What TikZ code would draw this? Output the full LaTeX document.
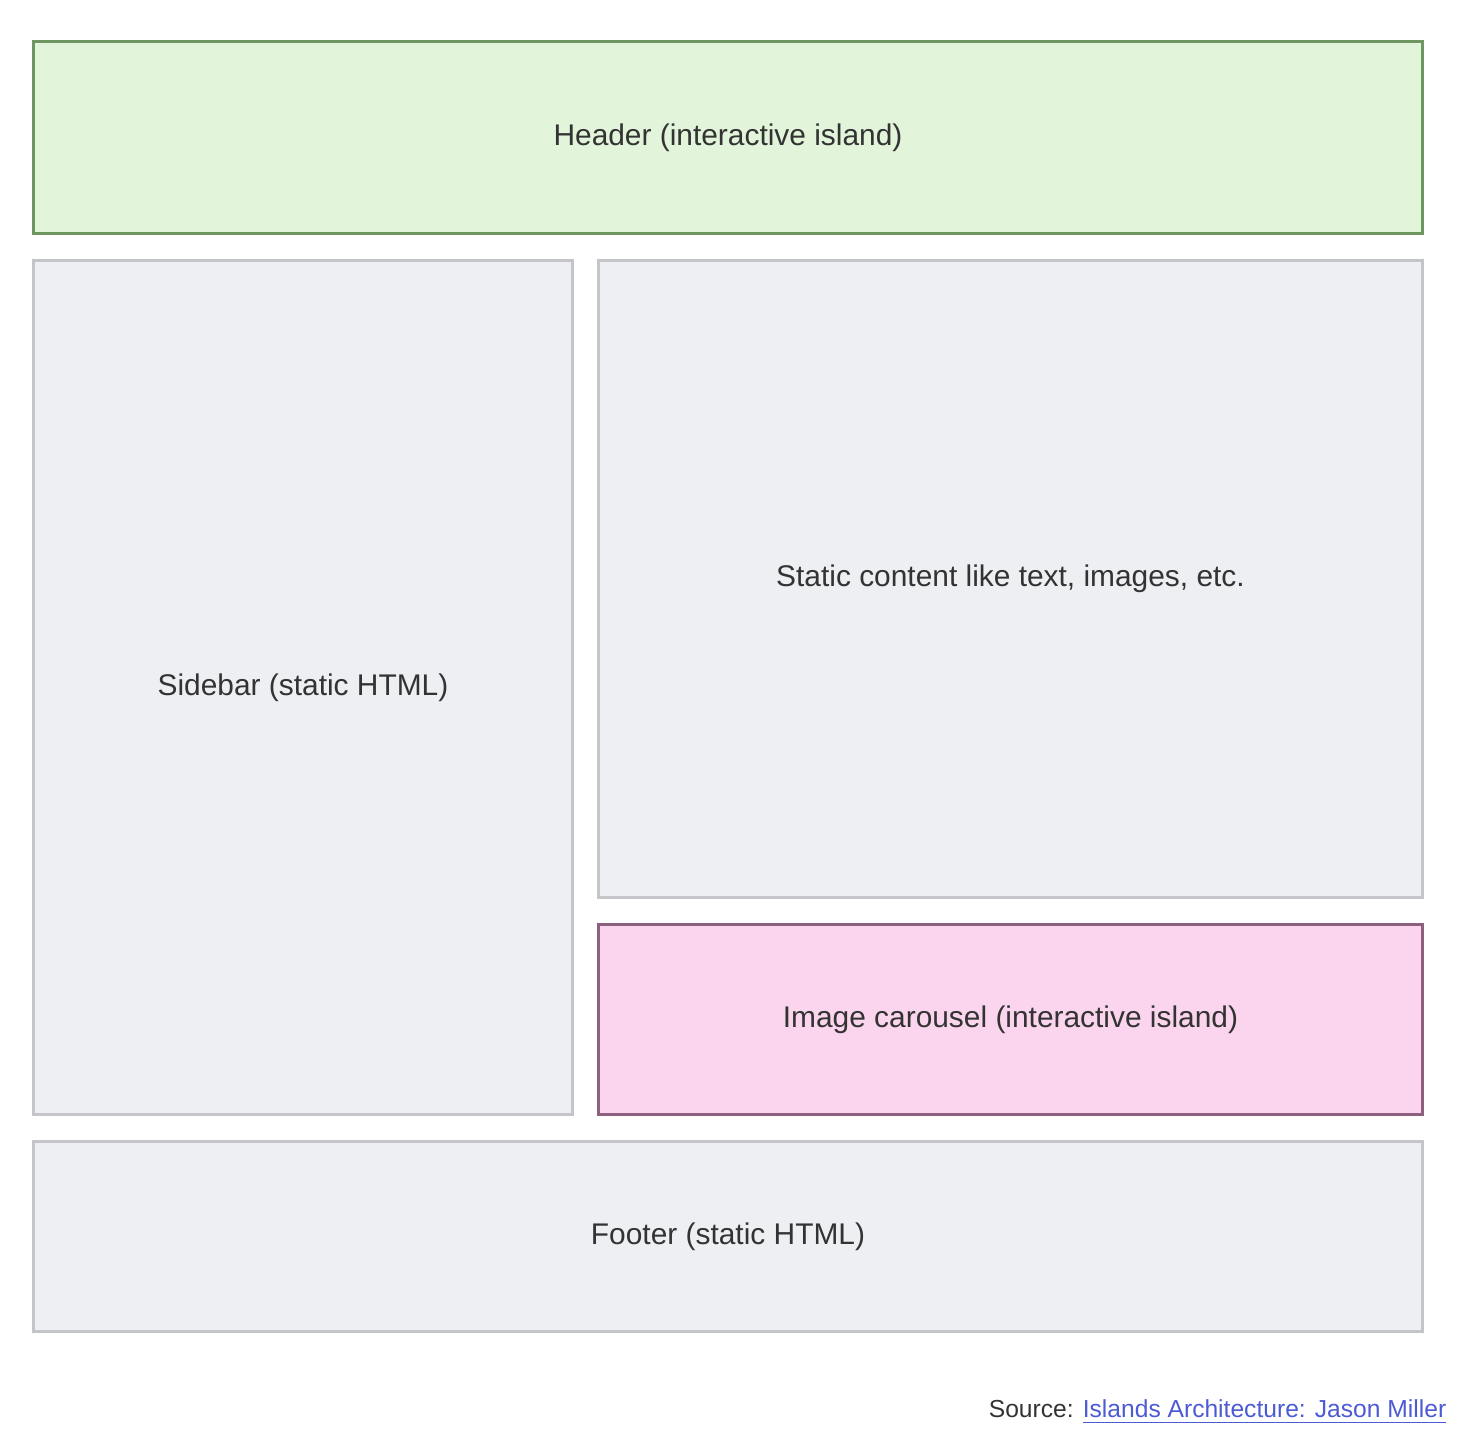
\documentclass[tikz,border=0pt]{standalone}
\usepackage{fontspec}
\setmainfont{Liberation Sans}
\definecolor{islandfill}{HTML}{E2F5DA}
\definecolor{islanddraw}{HTML}{6E9661}
\definecolor{staticfill}{HTML}{EEEFF3}
\definecolor{staticdraw}{HTML}{C4C5C8}
\definecolor{carofill}{HTML}{FBD5EE}
\definecolor{carodraw}{HTML}{8E6080}
\definecolor{labeltext}{HTML}{333333}
\definecolor{linkblue}{HTML}{4C5BD4}
\begin{document}
\begin{tikzpicture}[x=0.01cm,y=-0.01cm,
  box/.style={draw, line width=0.85pt, inner sep=0pt, text=labeltext,
    font=\fontsize{8.5}{10}\selectfont},
  static/.style={box, fill=staticfill, draw=staticdraw},
  island/.style={box, fill=islandfill, draw=islanddraw},
  carousel/.style={box, fill=carofill, draw=carodraw}]
\useasboundingbox (0,0) rectangle (1462,1446);
% layout blocks
\node [island, minimum width=13.88cm, minimum height=1.91cm] (header) at (728,137.5) {Header (interactive island)};
\node [static, minimum width=5.38cm, minimum height=8.53cm] (sidebar) at (303,687.5) {Sidebar (static HTML)};
\node [static, minimum width=8.23cm, minimum height=6.36cm] (content) at (1010.5,579) {Static content like text, images, etc.};
\node [carousel, minimum width=8.23cm, minimum height=1.89cm] (carousel) at (1010.5,1019.5) {Image carousel (interactive island)};
\node [static, minimum width=13.88cm, minimum height=1.89cm] (footer) at (728,1236.5) {Footer (static HTML)};
% source line
\node [anchor=east, inner sep=0pt, text=labeltext, font=\fontsize{7}{8}\selectfont] (source) at (1447,1412)
  {Source: \textcolor{linkblue}{\underline{Islands Architecture: Jason Miller}}};
\end{tikzpicture}
\end{document}
